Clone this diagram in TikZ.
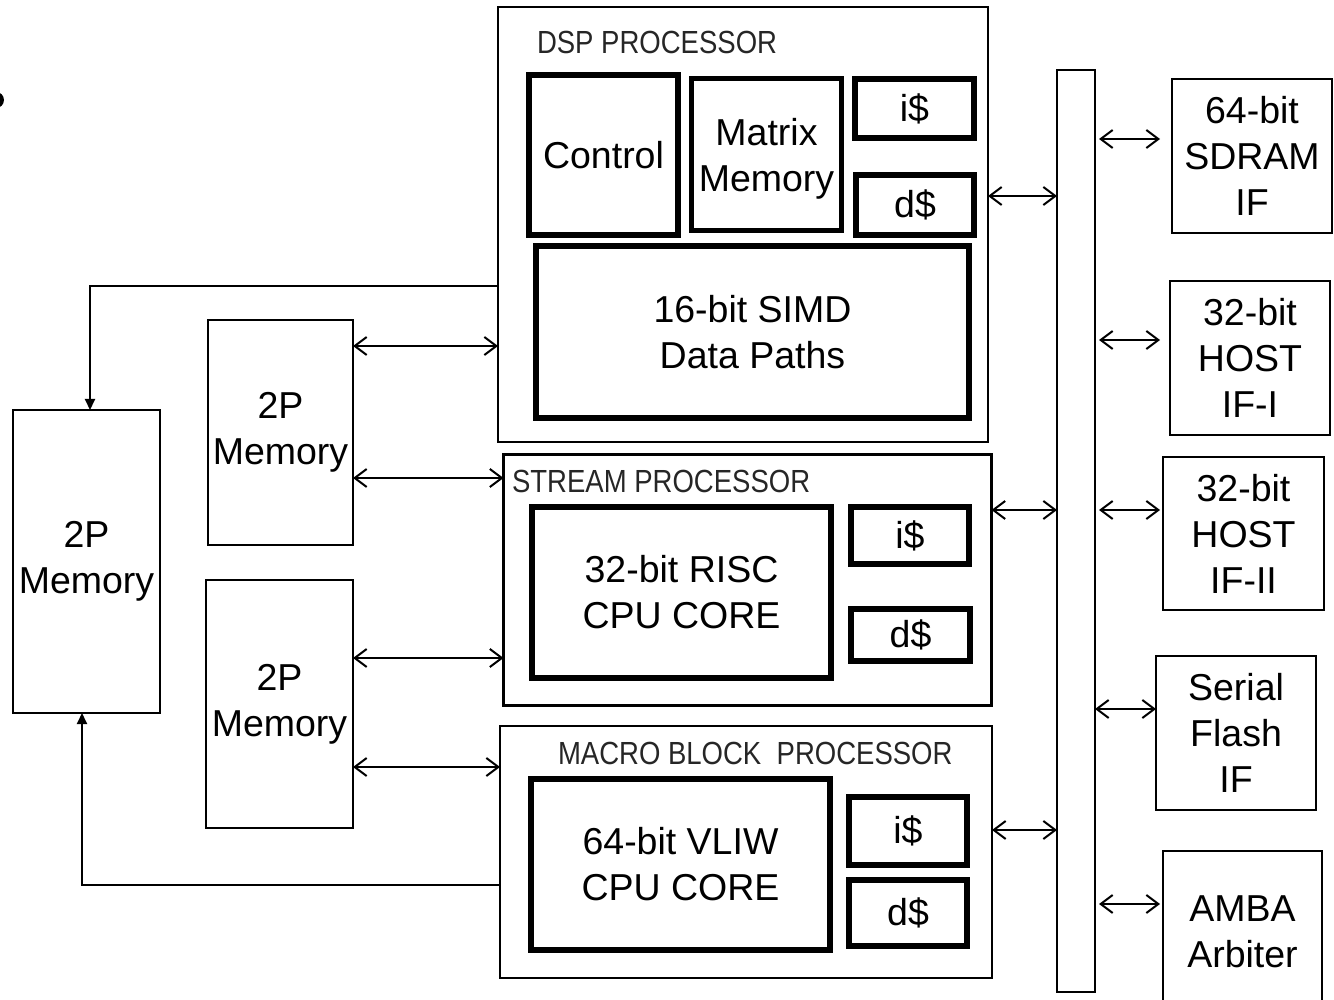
\documentclass[tikz,border=0pt]{standalone}
\usepackage{fontspec}
\setmainfont{Liberation Sans}
\newfontfamily\condfont[FakeStretch=0.86]{Liberation Sans}
\usetikzlibrary{arrows.meta}
\begin{document}
\begin{tikzpicture}[x=1pt,y=-1pt,
  every node/.style={font=\fontsize{37.5}{46}\selectfont, inner sep=0pt, outer sep=0pt, align=center, text=black},
  thinbox/.style={draw, line width=2pt},
  midbox/.style={draw, line width=3.5pt},
  thickbox/.style={draw, line width=6pt},
  sz/.style 2 args={minimum width=#1, minimum height=#2},
  lbl/.style={font=\condfont\fontsize{32}{38}\selectfont, text=black!85, anchor=west},
  bi/.style={line width=2pt, {Straight Barb[length=12pt,width=18pt]}-{Straight Barb[length=12pt,width=18pt]}},
  fb/.style={line width=2pt, -{Triangle[length=11pt,width=10pt]}}]
\useasboundingbox (0,0) rectangle (1334,1000);
\fill (-4,100) circle[radius=8];

% DSP processor
\node[thinbox, sz={490}{435}] (dsp) at (743,224.5) {};
\node[lbl] (dsplbl) at (537,42) {DSP PROCESSOR};
\node[thickbox, sz={149}{160}] (ctrl) at (603.5,155) {Control};
\node[draw, line width=5pt, sz={150}{152}, text depth=0pt] (matrix) at (766.5,154.5) {Matrix\\Memory};
\node[thickbox, sz={119}{59}] (dspi) at (914.5,108.5) {i\$};
\node[thickbox, sz={118}{60}] (dspd) at (915,205) {d\$};
\node[thickbox, sz={433}{172}] (simd) at (752.5,332) {16-bit SIMD\\Data Paths};

% Stream processor
\node[midbox, sz={488}{251}] (stream) at (747.5,580) {};
\node[lbl] (strlbl) at (512,481) {STREAM PROCESSOR};
\node[thickbox, sz={299}{171}] (risc) at (681.5,592.5) {32-bit RISC\\CPU CORE};
\node[thickbox, sz={118}{57}] (si) at (910,535.5) {i\$};
\node[thickbox, sz={119}{52}] (sd) at (910.5,635) {d\$};

% Macro block processor
\node[thinbox, sz={492}{252}] (macro) at (746,852) {};
\node[lbl] (mblbl) at (558,753) {MACRO BLOCK\ \ PROCESSOR};
\node[thickbox, sz={299}{171}] (vliw) at (680.5,864.5) {64-bit VLIW\\CPU CORE};
\node[thickbox, sz={118}{68}] (mi) at (908,831) {i\$};
\node[thickbox, sz={118}{66}] (md) at (908,913) {d\$};

% Bus and interfaces
\node[thinbox, sz={38}{922}] (bus) at (1076,531) {};
\node[thinbox, sz={160}{154}] (sdram) at (1252,156) {64-bit\\SDRAM\\IF};
\node[thinbox, sz={160}{154}] (host1) at (1250,358) {32-bit\\HOST\\IF-I};
\node[thinbox, sz={161}{153}] (host2) at (1243.5,533.5) {32-bit\\HOST\\IF-II};
\node[thinbox, sz={160}{154}] (serial) at (1236,733) {Serial\\Flash\\IF};
\node[thinbox, sz={159}{161}] (amba) at (1242.5,931.5) {AMBA\\Arbiter};

% Memories
\node[thinbox, sz={145}{225}] (mem1) at (280.5,432.5) {2P\\Memory};
\node[thinbox, sz={147}{248}] (mem2) at (279.5,704) {2P\\Memory};
\node[thinbox, sz={147}{303}] (bigmem) at (86.5,561.5) {2P\\Memory};

% Connectors
\draw[bi] (mem1.east |- 0,346) -- (dsp.west |- 0,346);
\draw[bi] (mem1.east |- 0,478) -- (stream.west |- 0,478);
\draw[bi] (mem2.east |- 0,658) -- (stream.west |- 0,658);
\draw[bi] (mem2.east |- 0,767) -- (macro.west |- 0,767);
\draw[bi] (dsp.east |- 0,196) -- (bus.west |- 0,196);
\draw[bi] (stream.east |- 0,510) -- (bus.west |- 0,510);
\draw[bi] (macro.east |- 0,830) -- (bus.west |- 0,830);
\draw[bi, shorten <=4pt, shorten >=12pt] (bus.east |- 0,139) -- (sdram.west |- 0,139);
\draw[bi, shorten <=4pt, shorten >=10pt] (bus.east |- 0,340) -- (host1.west |- 0,340);
\draw[bi, shorten <=4pt, shorten >=3pt] (bus.east |- 0,510) -- (host2.west |- 0,510);
\draw[bi] (bus.east |- 0,709) -- (serial.west |- 0,709);
\draw[bi, shorten <=4pt, shorten >=3pt] (bus.east |- 0,904) -- (amba.west |- 0,904);

\draw[fb] (dsp.west |- 0,286) -| (bigmem.north -| 90,0);
\draw[fb] (macro.west |- 0,885) -| (bigmem.south -| 82,0);
\end{tikzpicture}
\end{document}
